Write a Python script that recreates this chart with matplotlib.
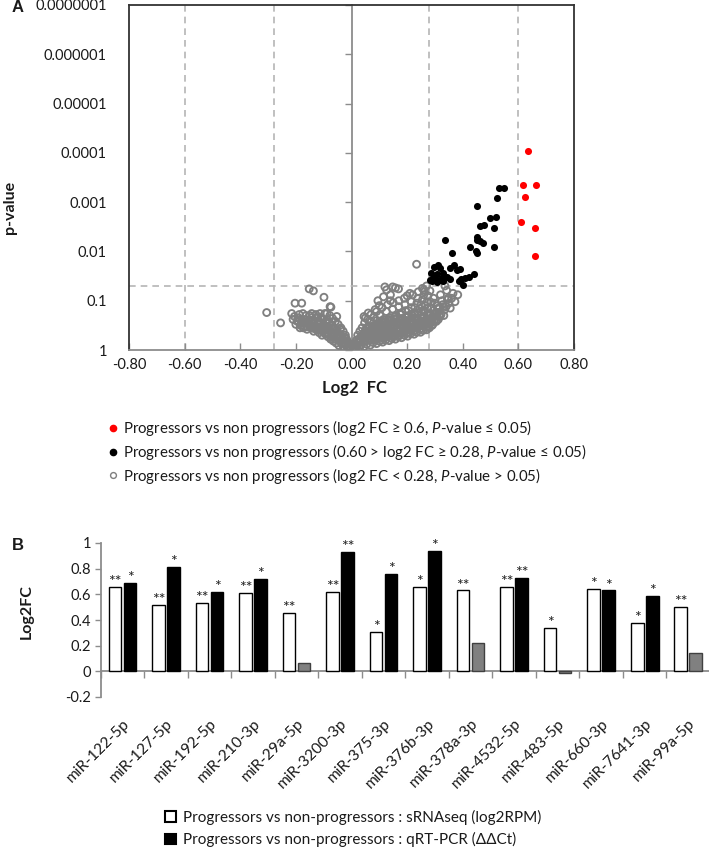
import matplotlib
matplotlib.use("Agg")
import matplotlib.pyplot as plt
import numpy as np
from matplotlib.lines import Line2D
from matplotlib.patches import Patch
from matplotlib.ticker import FuncFormatter, NullLocator

plt.rcParams['font.family'] = ['Lato', 'DejaVu Sans']
plt.rcParams['mathtext.fontset'] = 'custom'
plt.rcParams['mathtext.rm'] = 'Lato'
plt.rcParams['mathtext.it'] = 'Lato:italic'

# ---- panel A data (log2 FC, -log10 p) ----
red_fc = [0.634, 0.616, 0.664, 0.624, 0.610, 0.660, 0.660]
red_nlp = [4.04, 3.35, 3.35, 3.11, 2.59, 2.47, 1.91]

black_fc = [0.529, 0.549, 0.523, 0.451, 0.499, 0.521, 0.462, 0.475, 0.511, 0.337,
            0.450, 0.451, 0.462, 0.474, 0.426, 0.448, 0.450, 0.513, 0.360, 0.312,
            0.297, 0.318, 0.354, 0.369, 0.381, 0.390, 0.285, 0.306, 0.330, 0.342,
            0.294, 0.318, 0.441, 0.424, 0.408, 0.393, 0.388, 0.400, 0.354, 0.330,
            0.306, 0.288, 0.300, 0.325, 0.284]
black_nlp = [3.29, 3.29, 3.08, 2.93, 2.68, 2.70, 2.52, 2.54, 2.48, 2.23,
             2.30, 2.23, 2.22, 2.18, 2.08, 2.01, 1.97, 2.08, 1.96, 1.72,
             1.69, 1.66, 1.66, 1.72, 1.62, 1.64, 1.56, 1.54, 1.56, 1.49,
             1.45, 1.42, 1.54, 1.49, 1.47, 1.44, 1.39, 1.32, 1.45, 1.39,
             1.37, 1.39, 1.50, 1.47, 1.42]

# right branch of the grey cloud
gray_right_fc = [
    0.005, 0.010, 0.012, 0.015, 0.018, 0.020, 0.022, 0.025, 0.028, 0.030,
    0.032, 0.035, 0.038, 0.040, 0.042, 0.045, 0.047, 0.050, 0.052, 0.055,
    0.058, 0.060, 0.062, 0.065, 0.068, 0.070, 0.072, 0.075, 0.078, 0.080,
    0.082, 0.085, 0.088, 0.090, 0.092, 0.095, 0.098, 0.100, 0.102, 0.105,
    0.108, 0.110, 0.112, 0.115, 0.118, 0.120, 0.122, 0.125, 0.128, 0.130,
    0.132, 0.135, 0.138, 0.140, 0.142, 0.145, 0.148, 0.150, 0.152, 0.155,
    0.158, 0.160, 0.162, 0.165, 0.168, 0.170, 0.172, 0.175, 0.178, 0.180,
    0.182, 0.185, 0.188, 0.190, 0.192, 0.195, 0.198, 0.200, 0.202, 0.205,
    0.208, 0.210, 0.212, 0.215, 0.218, 0.220, 0.222, 0.225, 0.228, 0.230,
    0.232, 0.235, 0.238, 0.240, 0.242, 0.245, 0.248, 0.250, 0.252, 0.255,
    0.258, 0.260, 0.262, 0.265, 0.268, 0.270, 0.272, 0.275, 0.278, 0.280,
    0.282, 0.285, 0.288, 0.290, 0.295, 0.300, 0.305, 0.310, 0.318, 0.325,
    0.335, 0.342, 0.350, 0.382, 0.360, 0.292, 0.306, 0.336, 0.234, 0.169,
    0.148, 0.120, 0.126, 0.158, 0.045, 0.060, 0.085, 0.100, 0.210, 0.255,
    0.270, 0.200, 0.140, 0.030, 0.055, 0.075, 0.095, 0.115, 0.135, 0.155,
    0.175, 0.195, 0.215, 0.235, 0.255, 0.275, 0.065, 0.085, 0.105, 0.125,
    0.145, 0.165, 0.185, 0.205, 0.225, 0.245, 0.265, 0.285, 0.038, 0.058,
    0.078, 0.098, 0.118, 0.138, 0.158, 0.178, 0.198, 0.218, 0.238, 0.258,
    0.278, 0.298, 0.315, 0.330, 0.345, 0.300, 0.320, 0.290, 0.310, 0.262,
    0.015, 0.025, 0.035, 0.045, 0.048, 0.055, 0.062, 0.066, 0.070, 0.074,
    0.080, 0.084, 0.088, 0.090, 0.095, 0.100, 0.104, 0.107, 0.110, 0.113,
    0.117, 0.120, 0.124, 0.127, 0.130, 0.134, 0.137, 0.140, 0.144, 0.147,
    0.150, 0.154, 0.157, 0.160, 0.163, 0.166, 0.170, 0.173, 0.176, 0.180,
    0.183, 0.186, 0.190, 0.193, 0.196, 0.200, 0.203, 0.206, 0.210, 0.213,
    0.216, 0.220, 0.223, 0.226, 0.230, 0.233, 0.236, 0.240, 0.244, 0.247,
    0.250, 0.254, 0.257, 0.260, 0.264, 0.267, 0.270, 0.274, 0.277, 0.280,
    0.284, 0.287, 0.290, 0.294, 0.298, 0.303, 0.308, 0.312, 0.316, 0.322,
    0.328, 0.332, 0.340, 0.348, 0.355, 0.365, 0.372, 0.050, 0.070, 0.090,
    0.110, 0.130, 0.150, 0.170, 0.190, 0.220, 0.240, 0.260, 0.095, 0.115,
    0.140,
]
gray_right_nlp = [
    0.02, 0.05, 0.12, 0.03, 0.20, 0.08, 0.30, 0.14, 0.05, 0.38,
    0.22, 0.10, 0.45, 0.30, 0.16, 0.07, 0.55, 0.40, 0.25, 0.12,
    0.62, 0.48, 0.33, 0.19, 0.10, 0.57, 0.41, 0.27, 0.15, 0.66,
    0.50, 0.35, 0.22, 0.13, 0.60, 0.44, 0.30, 0.18, 0.70, 0.53,
    0.38, 0.25, 0.16, 0.62, 0.46, 0.32, 0.20, 0.78, 0.55, 0.40,
    0.27, 0.19, 0.66, 0.48, 0.34, 0.23, 0.83, 0.58, 0.43, 0.30,
    0.22, 0.70, 0.51, 0.37, 0.27, 0.88, 0.62, 0.45, 0.33, 0.25,
    0.76, 0.55, 0.40, 0.30, 0.92, 0.66, 0.48, 0.35, 0.28, 0.80,
    0.58, 0.43, 0.33, 0.98, 0.70, 0.52, 0.38, 0.32, 0.86, 0.62,
    0.46, 0.36, 1.05, 0.75, 0.55, 0.42, 0.36, 0.92, 0.66, 0.50,
    0.40, 1.12, 0.80, 0.60, 0.46, 0.41, 0.98, 0.70, 0.53, 0.45,
    1.20, 0.85, 0.64, 0.50, 1.05, 0.75, 0.58, 0.90, 0.68, 1.00,
    0.82, 1.21, 0.95, 1.12, 1.05, 0.52, 0.76, 1.30, 1.74, 1.24,
    1.28, 1.28, 1.22, 1.26, 0.68, 0.75, 0.82, 0.90, 1.15, 1.25,
    1.30, 1.10, 1.00, 0.18, 0.30, 0.38, 0.48, 0.55, 0.62, 0.68,
    0.74, 0.80, 0.86, 0.95, 1.02, 1.10, 0.22, 0.28, 0.35, 0.43,
    0.50, 0.56, 0.63, 0.70, 0.76, 0.84, 0.90, 0.97, 0.25, 0.36,
    0.45, 0.54, 0.60, 0.58, 0.64, 0.72, 0.60, 0.66, 0.60, 0.78,
    0.62, 0.60, 0.70, 0.88, 1.02, 0.95, 1.12, 0.66, 0.84, 1.18,
    0.10, 0.22, 0.28, 0.20, 0.35, 0.45, 0.22, 0.38, 0.30, 0.48,
    0.20, 0.42, 0.30, 0.52, 0.24, 0.36, 0.46, 0.20, 0.58, 0.30,
    0.40, 0.52, 0.26, 0.35, 0.47, 0.60, 0.30, 0.40, 0.53, 0.27,
    0.36, 0.48, 0.62, 0.32, 0.42, 0.55, 0.30, 0.38, 0.50, 0.64,
    0.34, 0.45, 0.58, 0.38, 0.42, 0.52, 0.68, 0.36, 0.48, 0.60,
    0.40, 0.45, 0.56, 0.72, 0.40, 0.52, 0.64, 0.46, 0.50, 0.60,
    0.78, 0.44, 0.56, 0.68, 0.50, 0.55, 0.64, 0.84, 0.48, 0.60,
    0.72, 0.56, 0.66, 0.80, 0.58, 0.68, 0.76, 0.62, 0.86, 0.72,
    0.92, 0.70, 0.88, 1.05, 0.85, 1.15, 0.98, 0.65, 0.72, 0.78,
    0.86, 0.92, 0.96, 1.00, 1.05, 1.12, 1.18, 1.22, 1.00, 1.08,
    1.12,
]

# left branch of the grey cloud
gray_left_fc = [
    -0.005, -0.010, -0.012, -0.015, -0.018, -0.020, -0.022, -0.025, -0.028, -0.030,
    -0.032, -0.035, -0.038, -0.040, -0.042, -0.045, -0.048, -0.050, -0.052, -0.055,
    -0.058, -0.060, -0.062, -0.065, -0.068, -0.070, -0.072, -0.075, -0.078, -0.080,
    -0.083, -0.085, -0.088, -0.090, -0.093, -0.096, -0.100, -0.103, -0.106, -0.110,
    -0.113, -0.116, -0.120, -0.124, -0.128, -0.132, -0.136, -0.140, -0.145, -0.150,
    -0.155, -0.160, -0.165, -0.170, -0.175, -0.180, -0.185, -0.190, -0.200, -0.210,
    -0.215, -0.203, -0.179, -0.305, -0.255, -0.152, -0.137, -0.099, -0.074, -0.143,
    -0.113, -0.089, -0.077, -0.053, -0.060, -0.095, -0.125, -0.158, -0.035, -0.045,
    -0.065, -0.085, -0.105, -0.130, -0.150, -0.170, -0.195, -0.110, -0.070, -0.025,
    -0.008, -0.016, -0.024, -0.033, -0.040, -0.047, -0.054, -0.060, -0.066, -0.073,
    -0.079, -0.086, -0.092, -0.098, -0.104, -0.108, -0.115, -0.118, -0.122, -0.127,
    -0.134, -0.138, -0.143, -0.148, -0.153, -0.158, -0.163, -0.168, -0.173, -0.178,
    -0.183, -0.188, -0.195, -0.205,
]
gray_left_nlp = [
    0.03, 0.08, 0.15, 0.04, 0.22, 0.10, 0.30, 0.16, 0.06, 0.38,
    0.24, 0.12, 0.45, 0.30, 0.18, 0.09, 0.52, 0.37, 0.24, 0.14,
    0.58, 0.43, 0.30, 0.18, 0.64, 0.50, 0.35, 0.22, 0.70, 0.55,
    0.40, 0.27, 0.62, 0.45, 0.32, 0.74, 0.52, 0.37, 0.30, 0.66,
    0.45, 0.35, 0.58, 0.40, 0.72, 0.50, 0.38, 0.60, 0.45, 0.70,
    0.52, 0.42, 0.62, 0.48, 0.74, 0.55, 0.45, 0.65, 0.52, 0.62,
    0.74, 0.95, 0.95, 0.76, 0.55, 1.24, 1.20, 1.07, 0.87, 0.74,
    0.74, 0.74, 0.88, 0.68, 0.33, 0.42, 0.46, 0.55, 0.20, 0.25,
    0.26, 0.33, 0.40, 0.44, 0.48, 0.55, 0.60, 0.56, 0.44, 0.12,
    0.12, 0.18, 0.26, 0.20, 0.42, 0.28, 0.35, 0.22, 0.45, 0.28,
    0.46, 0.35, 0.56, 0.42, 0.62, 0.48, 0.55, 0.42, 0.66, 0.45,
    0.56, 0.44, 0.66, 0.50, 0.60, 0.47, 0.70, 0.56, 0.45, 0.62,
    0.50, 0.72, 0.58, 0.68,
]

p_ticks = [1, 0.1, 0.01, 0.001, 0.0001, 0.00001, 0.000001, 0.0000001]
fc_ticks = [-0.8, -0.6, -0.4, -0.2, 0.0, 0.2, 0.4, 0.6, 0.8]
fc_cutoffs = [-0.6, -0.28, 0.28, 0.6]
p_cutoff = 0.05

legend_a = [
    'Progressors vs non progressors (log2 FC ≥ 0.6, $\\mathit{P}$-value ≤ 0.05)',
    'Progressors vs non progressors (0.60 > log2 FC ≥ 0.28, $\\mathit{P}$-value ≤ 0.05)',
    'Progressors vs non progressors (log2 FC < 0.28, $\\mathit{P}$-value > 0.05)',
]

# ---- panel B data ----
mirnas = ['miR-122-5p', 'miR-127-5p', 'miR-192-5p', 'miR-210-3p', 'miR-29a-5p',
          'miR-3200-3p', 'miR-375-3p', 'miR-376b-3p', 'miR-378a-3p', 'miR-4532-5p',
          'miR-483-5p', 'miR-660-3p', 'miR-7641-3p', 'miR-99a-5p']
seq_fc = [0.66, 0.515, 0.53, 0.61, 0.455, 0.615, 0.31, 0.66, 0.63, 0.66, 0.34, 0.64, 0.375, 0.50]
pcr_fc = [0.69, 0.81, 0.62, 0.72, 0.065, 0.93, 0.76, 0.94, 0.22, 0.73, -0.015, 0.63, 0.59, 0.14]
seq_sig = ['**', '**', '**', '**', '**', '**', '*', '*', '**', '**', '*', '*', '*', '**']
pcr_sig = ['*', '*', '*', '*', '', '**', '*', '*', '', '**', '', '*', '*', '']
legend_b = ['Progressors vs non-progressors : sRNAseq (log2RPM)',
            'Progressors vs non-progressors : qRT-PCR (ΔΔCt)']

W, H = 709, 848
fig = plt.figure(figsize=(W / 100, H / 100), dpi=100)

def box(l, t, r, b):
    return [l / W, 1 - b / H, (r - l) / W, (b - t) / H]

txt = '#1a1a1a'
spine_dark = '#333333'
axis_gray = '#8c8c8c'

# ================= panel A =================
ax = fig.add_axes(box(129, 5, 574, 350))
ax.set_yscale('log')
ax.set_xlim(-0.8, 0.8)
ax.set_ylim(1, 1e-7)

for c in fc_cutoffs:
    ax.axvline(c, color='#b5b5b5', lw=1.2, ls=(0, (4, 3)), zorder=1)
ax.axhline(p_cutoff, color='#b5b5b5', lw=1.2, ls=(0, (4, 3)), zorder=1)

gray_fc = gray_right_fc + gray_left_fc
gray_p = 10 ** (-np.array(gray_right_nlp + gray_left_nlp))
black_p = 10 ** (-np.array(black_nlp))
red_p = 10 ** (-np.array(red_nlp))
ax.scatter(gray_fc, gray_p, s=25, facecolors='none', edgecolors='#808080', linewidths=1.35, zorder=3)
ax.scatter(black_fc, black_p, s=26, color='black', linewidths=0, zorder=4)
ax.scatter(red_fc, red_p, s=26, color='#ff0000', linewidths=0, zorder=5)

for s in ['left', 'top', 'right']:
    ax.spines[s].set_color(spine_dark)
    ax.spines[s].set_linewidth(1.3)
ax.spines['bottom'].set_color(axis_gray)
ax.spines['bottom'].set_linewidth(1.3)

ax.set_xticks(fc_ticks)
ax.xaxis.set_major_formatter(FuncFormatter(lambda v, pos: '%.2f' % v))
ax.tick_params(axis='x', direction='in', length=5, width=1, color=axis_gray,
               labelsize=10.5, labelcolor=txt, pad=6)

ax.set_yticks(p_ticks)
ax.yaxis.set_minor_locator(NullLocator())
ax.yaxis.set_major_formatter(FuncFormatter(
    lambda v, pos: '1' if v >= 1 else '%.*f' % (int(round(-np.log10(v))), v)))
ax.tick_params(axis='y', length=0, labelsize=10.5, labelcolor=txt, pad=16)

# y axis line drawn at log2 FC = 0
yax0 = ax.secondary_yaxis(0.5)
yax0.set_alignment('left')
yax0.set_yticks(p_ticks)
yax0.yaxis.set_minor_locator(NullLocator())
yax0.tick_params(axis='y', which='both', direction='out', length=5, width=1, color=axis_gray,
                 labelleft=False, labelright=False)
yax0.spines['left'].set_color(axis_gray)
yax0.spines['left'].set_linewidth(1.3)

fig.text(355 / W, 1 - 388 / H, 'Log2  FC', ha='center', va='center',
         fontsize=12, fontweight='bold', color=txt)
fig.text(10 / W, 1 - 207 / H, 'p-value', ha='center', va='center', rotation=90,
         fontsize=11.5, fontweight='bold', color=txt)
fig.text(12 / W, 1 - 8 / H, 'A', ha='left', va='center', fontsize=12,
         fontweight='bold', family='Liberation Sans', color=txt)

handles_a = [
    Line2D([], [], ls='none', marker='o', ms=4.5, mfc='#ff0000', mec='#ff0000'),
    Line2D([], [], ls='none', marker='o', ms=4.5, mfc='black', mec='black'),
    Line2D([], [], ls='none', marker='o', ms=4.2, mfc='none', mec='#7f7f7f', mew=1.0),
]
fig.legend(handles_a, legend_a, loc='upper left', bbox_to_anchor=(108 / W, 1 - 418 / H),
           frameon=False, fontsize=10.8, handlelength=0.7, handletextpad=0.3,
           labelspacing=0.25, borderpad=0, borderaxespad=0, labelcolor=txt)

# ================= panel B =================
bx = fig.add_axes(box(100.7, 543, 710, 697))
n = len(mirnas)
xpos = np.arange(n)
bw = 0.29
off = 0.172
pcr_colors = ['black' if s else '#808080' for s in pcr_sig]
pcr_edges = ['black' if s else '#404040' for s in pcr_sig]

bx.bar(xpos - off, seq_fc, bw, color='white', edgecolor='black', linewidth=1.0, zorder=3)
bx.bar(xpos + off, pcr_fc, bw, color=pcr_colors, edgecolor=pcr_edges, linewidth=1.0, zorder=3)

for i in range(n):
    if seq_sig[i]:
        bx.annotate(seq_sig[i], (xpos[i] - off, seq_fc[i]), xytext=(0, -1.5),
                    textcoords='offset points', ha='center', va='bottom',
                    fontsize=11.5, color='#222222')
    if pcr_sig[i]:
        bx.annotate(pcr_sig[i], (xpos[i] + off, max(pcr_fc[i], 0)), xytext=(0, -1.5),
                    textcoords='offset points', ha='center', va='bottom',
                    fontsize=11.5, color='#222222')

bx.set_xlim(-0.5, n - 0.5)
bx.set_ylim(-0.2, 1.0)
bx.set_yticks([-0.2, 0, 0.2, 0.4, 0.6, 0.8, 1.0])
bx.yaxis.set_major_formatter(FuncFormatter(lambda v, pos: '%g' % round(v, 1)))
bx.tick_params(axis='y', direction='out', length=4, width=1, color=axis_gray,
               labelsize=10.5, labelcolor=txt, pad=3)
for s in ['top', 'right', 'bottom']:
    bx.spines[s].set_visible(False)
bx.spines['left'].set_color(axis_gray)
bx.spines['left'].set_linewidth(1.3)

bx.set_xticks(xpos)
bx.set_xticklabels(mirnas, rotation=45, ha='right', rotation_mode='anchor',
                   fontsize=11.2, color=txt)
bx.tick_params(axis='x', length=0, pad=14)

# zero line with category separators
x0 = bx.secondary_xaxis(0.2 / 1.2)
x0.set_alignment('bottom')
x0.set_xticks(np.arange(n + 1) - 0.5)
x0.tick_params(axis='x', direction='out', length=5, width=1, color=axis_gray,
               labelbottom=False, labeltop=False)
x0.spines['bottom'].set_color(axis_gray)
x0.spines['bottom'].set_linewidth(1.3)

fig.text(27 / W, 1 - 612 / H, 'Log2FC', ha='center', va='center', rotation=90,
         fontsize=11.5, fontweight='bold', color=txt)
fig.text(12 / W, 1 - 545 / H, 'B', ha='left', va='center', fontsize=12,
         fontweight='bold', family='Liberation Sans', color=txt)

handles_b = [Patch(facecolor='white', edgecolor='black', linewidth=1.5),
             Patch(facecolor='black', edgecolor='black', linewidth=1.5)]
fig.legend(handles_b, legend_b, loc='upper left', bbox_to_anchor=(165 / W, 1 - 810 / H),
           frameon=False, fontsize=11, handlelength=0.7, handleheight=0.7,
           handletextpad=0.5, labelspacing=0.48, borderpad=0, borderaxespad=0,
           labelcolor=txt)

fig.savefig('out.png', dpi=100)
